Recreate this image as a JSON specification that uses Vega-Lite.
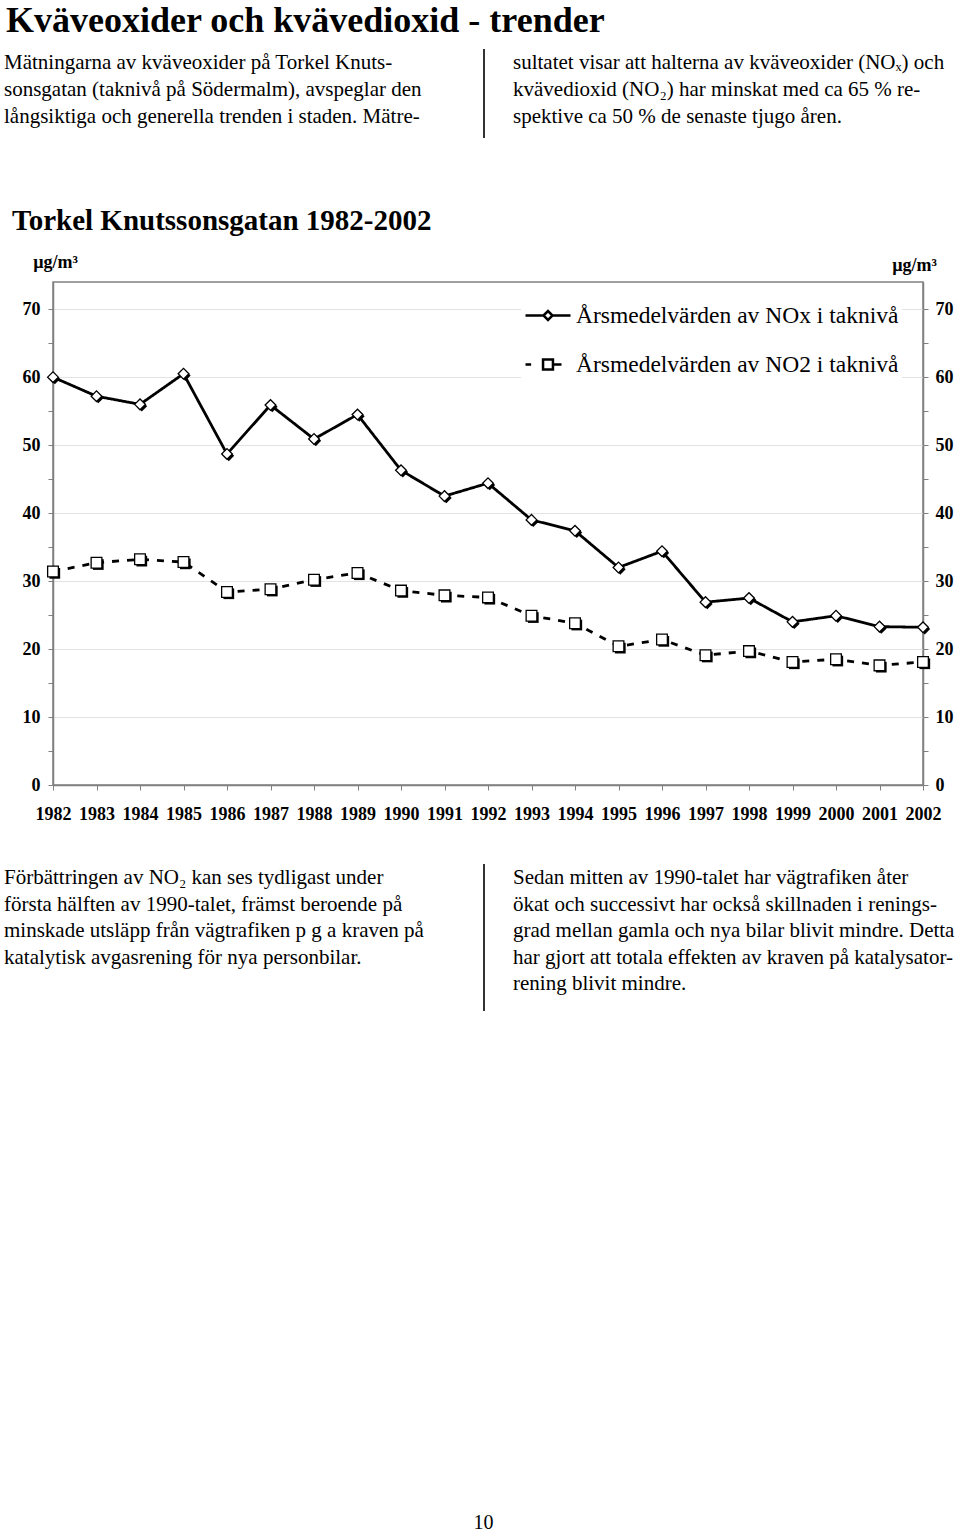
{
"$schema":"https://vega.github.io/schema/vega-lite/v6.json",
"background":"white",
"padding":{"left":4,"top":2,"right":0,"bottom":0},
"config":{"view":{"stroke":null},"font":"Liberation Serif"},
"title":{"text":"Kväveoxider och kvävedioxid - trender","anchor":"start","font":"Liberation Serif","fontSize":36,"fontWeight":"bold","color":"black","offset":8,"dx":2},
"spacing":38,
"datasets":{
"series":[
{"year":1982,"series":"Årsmedelvärden av NOx i taknivå","value":60.0},
{"year":1983,"series":"Årsmedelvärden av NOx i taknivå","value":57.2},
{"year":1984,"series":"Årsmedelvärden av NOx i taknivå","value":56.0},
{"year":1985,"series":"Årsmedelvärden av NOx i taknivå","value":60.5},
{"year":1986,"series":"Årsmedelvärden av NOx i taknivå","value":48.7},
{"year":1987,"series":"Årsmedelvärden av NOx i taknivå","value":55.9},
{"year":1988,"series":"Årsmedelvärden av NOx i taknivå","value":50.9},
{"year":1989,"series":"Årsmedelvärden av NOx i taknivå","value":54.5},
{"year":1990,"series":"Årsmedelvärden av NOx i taknivå","value":46.3},
{"year":1991,"series":"Årsmedelvärden av NOx i taknivå","value":42.5},
{"year":1992,"series":"Årsmedelvärden av NOx i taknivå","value":44.4},
{"year":1993,"series":"Årsmedelvärden av NOx i taknivå","value":39.0},
{"year":1994,"series":"Årsmedelvärden av NOx i taknivå","value":37.4},
{"year":1995,"series":"Årsmedelvärden av NOx i taknivå","value":32.0},
{"year":1996,"series":"Årsmedelvärden av NOx i taknivå","value":34.4},
{"year":1997,"series":"Årsmedelvärden av NOx i taknivå","value":26.9},
{"year":1998,"series":"Årsmedelvärden av NOx i taknivå","value":27.5},
{"year":1999,"series":"Årsmedelvärden av NOx i taknivå","value":24.0},
{"year":2000,"series":"Årsmedelvärden av NOx i taknivå","value":24.9},
{"year":2001,"series":"Årsmedelvärden av NOx i taknivå","value":23.3},
{"year":2002,"series":"Årsmedelvärden av NOx i taknivå","value":23.2},
{"year":1982,"series":"Årsmedelvärden av NO2 i taknivå","value":31.4},
{"year":1983,"series":"Årsmedelvärden av NO2 i taknivå","value":32.7},
{"year":1984,"series":"Årsmedelvärden av NO2 i taknivå","value":33.2},
{"year":1985,"series":"Årsmedelvärden av NO2 i taknivå","value":32.8},
{"year":1986,"series":"Årsmedelvärden av NO2 i taknivå","value":28.4},
{"year":1987,"series":"Årsmedelvärden av NO2 i taknivå","value":28.8},
{"year":1988,"series":"Årsmedelvärden av NO2 i taknivå","value":30.2},
{"year":1989,"series":"Årsmedelvärden av NO2 i taknivå","value":31.2},
{"year":1990,"series":"Årsmedelvärden av NO2 i taknivå","value":28.6},
{"year":1991,"series":"Årsmedelvärden av NO2 i taknivå","value":27.9},
{"year":1992,"series":"Årsmedelvärden av NO2 i taknivå","value":27.6},
{"year":1993,"series":"Årsmedelvärden av NO2 i taknivå","value":24.9},
{"year":1994,"series":"Årsmedelvärden av NO2 i taknivå","value":23.8},
{"year":1995,"series":"Årsmedelvärden av NO2 i taknivå","value":20.4},
{"year":1996,"series":"Årsmedelvärden av NO2 i taknivå","value":21.4},
{"year":1997,"series":"Årsmedelvärden av NO2 i taknivå","value":19.1},
{"year":1998,"series":"Årsmedelvärden av NO2 i taknivå","value":19.7},
{"year":1999,"series":"Årsmedelvärden av NO2 i taknivå","value":18.1},
{"year":2000,"series":"Årsmedelvärden av NO2 i taknivå","value":18.5},
{"year":2001,"series":"Årsmedelvärden av NO2 i taknivå","value":17.6},
{"year":2002,"series":"Årsmedelvärden av NO2 i taknivå","value":18.1}
],
"texts":[
{"block":"header","col":"left","line":1,"text":"\u00a0\u00a0\u00a0\u00a0\u00a0\u00a0Mätningarna av kväveoxider på Torkel Knuts-"},
{"block":"header","col":"left","line":2,"text":"sonsgatan (taknivå på Södermalm), avspeglar den"},
{"block":"header","col":"left","line":3,"text":"långsiktiga och generella trenden i staden. Mätre-"},
{"block":"header","col":"right","line":1,"text":"sultatet visar att halterna av kväveoxider (NOₓ) och"},
{"block":"header","col":"right","line":2,"text":"kvävedioxid (NO₂) har minskat med ca 65 % re-"},
{"block":"header","col":"right","line":3,"text":"spektive ca 50 % de senaste tjugo åren."},
{"block":"footer","col":"left","line":1,"text":"\u00a0\u00a0\u00a0\u00a0\u00a0\u00a0Förbättringen av NO₂ kan ses tydligast under"},
{"block":"footer","col":"left","line":2,"text":"första hälften av 1990-talet, främst beroende på"},
{"block":"footer","col":"left","line":3,"text":"minskade utsläpp från vägtrafiken p g a kraven på"},
{"block":"footer","col":"left","line":4,"text":"katalytisk avgasrening för nya personbilar."},
{"block":"footer","col":"right","line":1,"text":"\u00a0\u00a0\u00a0\u00a0\u00a0\u00a0Sedan mitten av 1990-talet har vägtrafiken åter"},
{"block":"footer","col":"right","line":2,"text":"ökat och successivt har också skillnaden i renings-"},
{"block":"footer","col":"right","line":3,"text":"grad mellan gamla och nya bilar blivit mindre. Detta"},
{"block":"footer","col":"right","line":4,"text":"har gjort att totala effekten av kraven på katalysator-"},
{"block":"footer","col":"right","line":5,"text":"rening blivit mindre."},
{"block":"page","col":"center","line":0,"text":"10"}
],
"dividers":[
{"block":"header","col":"right","first":1,"last":3},
{"block":"footer","col":"right","first":1,"last":5}
]
},
"vconcat":[
{
"width":870,"height":119,
"layer":[
{"data":{"name":"dividers"},"transform":[{"filter":"datum.block === 'header'"}],
"mark":{"type":"rule","color":"#333333","strokeWidth":2,"xOffset":-29,"yOffset":-14,"y2Offset":21},
"encoding":{
"x":{"field":"col","type":"nominal","scale":{"type":"point","domain":["left","right"],"range":[-49,460],"padding":0},"axis":null},
"y":{"field":"first","type":"quantitative","scale":{"domain":[0.4815,4.8889],"reverse":true,"nice":false,"zero":false},"axis":null},
"y2":{"field":"last"}}},
{"data":{"name":"texts"},"transform":[{"filter":"datum.block === 'header'"}],
"mark":{"type":"text","align":"left","baseline":"middle","font":"Liberation Serif","fontSize":21,"color":"black"},
"encoding":{
"x":{"field":"col","type":"nominal","scale":{"type":"point","domain":["left","right"],"range":[-49,460],"padding":0},"axis":null},
"y":{"field":"line","type":"quantitative","scale":{"domain":[0.4815,4.8889],"reverse":true,"nice":false,"zero":false},"axis":null},
"text":{"field":"text"}}}
]
},
{
"width":870,"height":503,
"view":{"stroke":"#808080","strokeWidth":1.5},
"title":{"text":"Torkel Knutssonsgatan 1982-2002","anchor":"start","frame":"group","dx":-41,"font":"Liberation Serif","fontSize":29,"fontWeight":"bold","color":"black","offset":17},
"data":{"name":"series"},
"encoding":{
"x":{"field":"year","type":"quantitative","scale":{"domain":[1982,2002],"nice":false,"zero":false},
"axis":{"values":[1982,1983,1984,1985,1986,1987,1988,1989,1990,1991,1992,1993,1994,1995,1996,1997,1998,1999,2000,2001,2002],"format":"d","title":null,"labelFont":"Liberation Serif","labelFontSize":18,"labelFontWeight":"bold","labelColor":"black","labelPadding":15,"labelFlush":false,"labelOverlap":false,"tickSize":5,"tickColor":"#808080","domainColor":"#808080","domainWidth":1.5,"grid":false}}
},
"layer":[
{"mark":{"type":"line","color":"black","strokeWidth":2.8},
"encoding":{
"y":{"field":"value","type":"quantitative","scale":{"domain":[0,74],"nice":false},
"axis":{"orient":"left","values":[0,5,10,15,20,25,30,35,40,45,50,55,60,65,70],"labelExpr":"datum.value % 10 === 0 ? datum.label : ''","title":"µg/m³","titleAngle":0,"titleAlign":"center","titleBaseline":"middle","titleX":2,"titleY":-20,"titleFont":"Liberation Serif","titleFontSize":18,"titleFontWeight":"bold","titleColor":"black","labelFont":"Liberation Serif","labelFontSize":18,"labelFontWeight":"bold","labelColor":"black","labelPadding":8,"tickSize":5,"tickColor":"#808080","domainColor":"#808080","domainWidth":1.5,"grid":true,"gridColor":{"condition":{"test":"datum.value % 10 !== 0","value":"transparent"},"value":"#e3e3e3"},"labelFlush":false,"labelOverlap":false}},
"strokeDash":{"field":"series","type":"nominal","scale":{"domain":["Årsmedelvärden av NOx i taknivå","Årsmedelvärden av NO2 i taknivå"],"range":[[1,0],[7,8]]},"legend":null}}},
{"mark":{"type":"point","filled":true,"color":"black","opacity":1,"size":115,"xOffset":1.8,"yOffset":1.8},
"encoding":{
"y":{"field":"value","type":"quantitative","scale":{"domain":[0,74],"nice":false},
"axis":{"orient":"right","values":[0,5,10,15,20,25,30,35,40,45,50,55,60,65,70],"labelExpr":"datum.value % 10 === 0 ? datum.label : ''","title":"µg/m³","titleAngle":0,"titleAlign":"center","titleBaseline":"middle","titleX":-9,"titleY":-17,"titleFont":"Liberation Serif","titleFontSize":18,"titleFontWeight":"bold","titleColor":"black","labelFont":"Liberation Serif","labelFontSize":18,"labelFontWeight":"bold","labelColor":"black","labelPadding":7,"tickSize":5,"tickColor":"#808080","domainColor":"#808080","domainWidth":1.5,"grid":false,"labelFlush":false,"labelOverlap":false}},
"shape":{"field":"series","type":"nominal","scale":{"domain":["Årsmedelvärden av NOx i taknivå","Årsmedelvärden av NO2 i taknivå"],"range":["diamond","square"]},"legend":null}}},
{"mark":{"type":"point","filled":true,"fill":"white","stroke":"black","strokeWidth":1.3,"opacity":1,"size":115},
"encoding":{
"y":{"field":"value","type":"quantitative","scale":{"domain":[0,74],"nice":false},"axis":null},
"shape":{"field":"series","type":"nominal","scale":{"domain":["Årsmedelvärden av NOx i taknivå","Årsmedelvärden av NO2 i taknivå"],"range":["diamond","square"]},"legend":null}}},
{"transform":[{"filter":"false"}],
"mark":{"type":"point","filled":false,"color":"black","strokeWidth":2.5,"opacity":1},
"encoding":{
"shape":{"field":"series","type":"nominal","scale":{"domain":["Årsmedelvärden av NOx i taknivå","Årsmedelvärden av NO2 i taknivå"],"range":["M-1,0L-0.2,0M-0.2,0L0,-0.2L0.2,0L0,0.2ZM0.2,0L1,0","M-1,0L-0.75,0M-0.22,-0.22L0.22,-0.22L0.22,0.22L-0.22,0.22ZM0.22,0L0.6,0"]},
"legend":{"title":null,"orient":"none","legendX":468,"legendY":6.5,"padding":3,"fillColor":"white","rowPadding":13,"labelOffset":4,"labelFont":"Liberation Serif","labelFontSize":23.5,"labelColor":"black","labelLimit":600,"symbolSize":2025,"symbolStrokeWidth":2.5,"symbolFillColor":"white","symbolStrokeColor":"black","symbolOpacity":1,
"encode":{"symbols":{"update":{"stroke":{"value":"black"},"fill":{"value":"white"},"strokeWidth":{"value":2.5},"opacity":{"value":1},"size":{"value":2025}}}}}}}}
],
"resolve":{"scale":{"shape":"independent"},"axis":{"y":"independent"},"legend":{"shape":"independent"}}
},
{
"width":870,"height":659,
"layer":[
{"data":{"name":"dividers"},"transform":[{"filter":"datum.block === 'footer'"}],
"mark":{"type":"rule","color":"#333333","strokeWidth":2,"xOffset":-29,"yOffset":-14,"y2Offset":27},
"encoding":{
"x":{"field":"col","type":"nominal","scale":{"type":"point","domain":["left","right"],"range":[-49,460],"padding":0},"axis":null},
"y":{"field":"first","type":"quantitative","scale":{"domain":[0.4717,25.3396],"reverse":true,"nice":false,"zero":false},"axis":null},
"y2":{"field":"last"}}},
{"data":{"name":"texts"},"transform":[{"filter":"datum.block === 'footer'"}],
"mark":{"type":"text","align":"left","baseline":"middle","font":"Liberation Serif","fontSize":21,"color":"black"},
"encoding":{
"x":{"field":"col","type":"nominal","scale":{"type":"point","domain":["left","right"],"range":[-49,460],"padding":0},"axis":null},
"y":{"field":"line","type":"quantitative","scale":{"domain":[0.4717,25.3396],"reverse":true,"nice":false,"zero":false},"axis":null},
"text":{"field":"text"}}},
{"data":{"name":"texts"},"transform":[{"filter":"datum.block === 'page'"}],
"mark":{"type":"text","align":"center","baseline":"middle","font":"Liberation Serif","fontSize":20,"color":"black","xOffset":-4.5},
"encoding":{"y":{"value":"height"},"text":{"field":"text"}}}
]
}
]
}
